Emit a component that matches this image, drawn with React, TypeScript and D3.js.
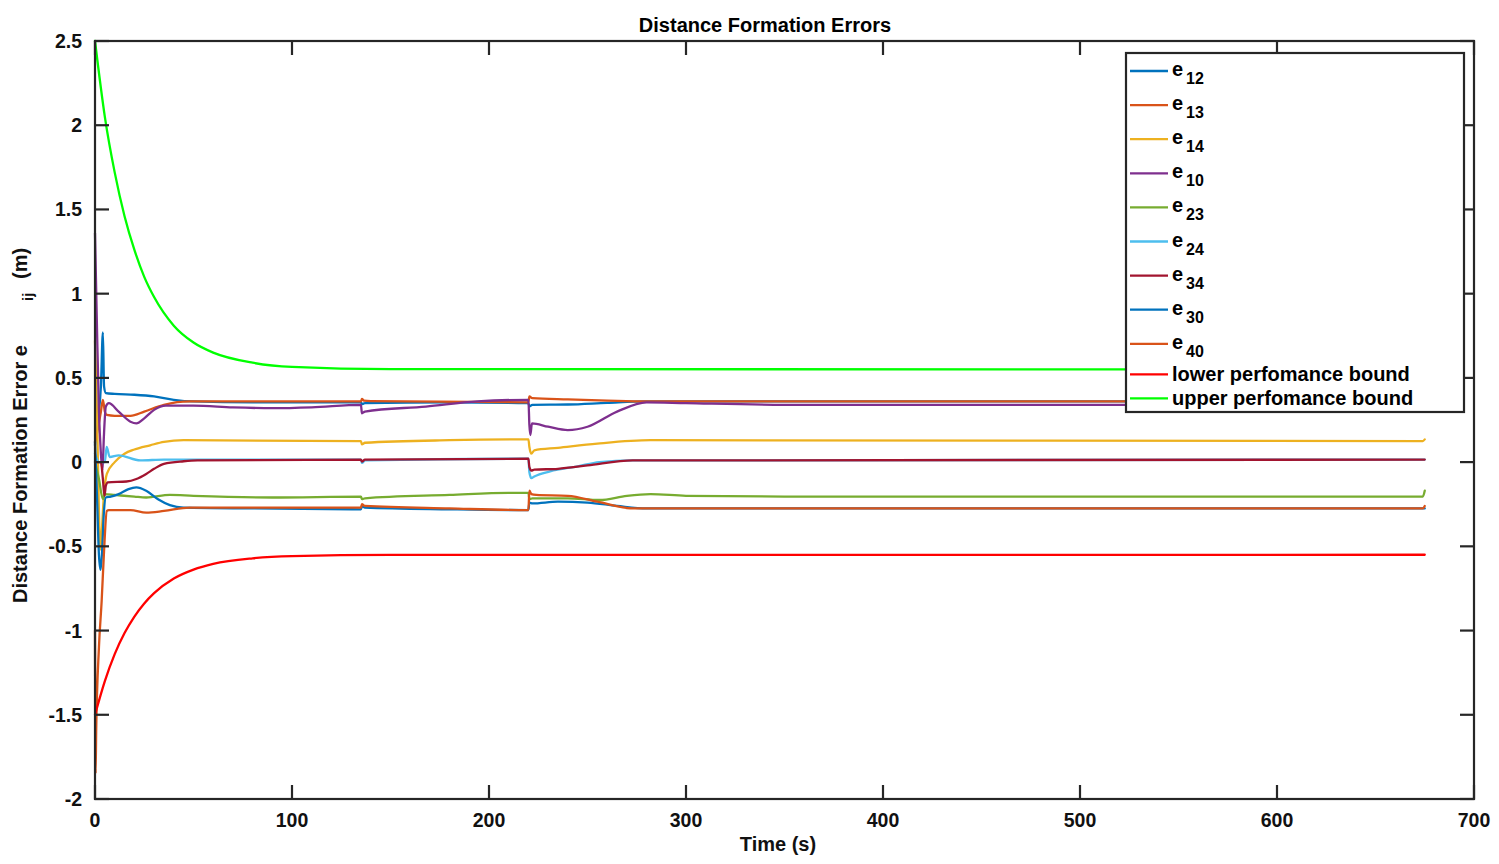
import React from "react";
import * as d3 from "d3";

// ---- data (time in s, error in m) ----
type P = [number, number];

const e12: P[] = [[0,0.1],[1.5,0.25],[3,0.45],[4,0.77],[4.6,0.45],[5.5,0.41],[10,0.405],[20,0.4],[30,0.39],[40,0.37],[50,0.36],[80,0.355],[135,0.355],[135.5,0.345],[137,0.35],[180,0.355],[220,0.35],[220.5,0.33],[222,0.34],[240,0.342],[260,0.352],[280,0.36],[300,0.36],[675,0.36]];
const e13: P[] = [[0,0.12],[1.5,0.2],[3,0.3],[4,0.37],[5,0.3],[6,0.28],[10,0.275],[18,0.275],[25,0.3],[35,0.34],[48,0.36],[135,0.36],[135.5,0.375],[136.5,0.365],[140,0.362],[220,0.355],[220.5,0.39],[222,0.38],[240,0.372],[260,0.365],[280,0.36],[675,0.36]];
const e14: P[] = [[0,0.72],[1,0.3],[2,-0.3],[2.8,-0.52],[3.5,-0.4],[4.5,-0.2],[6,-0.07],[10,0.0],[15,0.05],[20,0.075],[28,0.1],[35,0.12],[45,0.13],[135,0.125],[135.5,0.105],[137,0.115],[180,0.13],[220,0.135],[220.5,0.09],[221.5,0.05],[223,0.07],[235,0.085],[255,0.11],[282,0.13],[674,0.125],[675,0.135]];
const e10: P[] = [[0,1.36],[1,0.8],[2,0.3],[3,0.05],[3.8,-0.05],[4.5,0.15],[5.5,0.33],[7,0.35],[12,0.3],[18,0.24],[21,0.23],[25,0.26],[30,0.31],[36,0.335],[50,0.335],[70,0.325],[90,0.32],[110,0.325],[135,0.34],[135.5,0.29],[137,0.3],[168,0.33],[194,0.36],[220,0.37],[220.5,0.22],[221,0.16],[221.8,0.23],[230,0.21],[240,0.19],[250,0.21],[265,0.3],[280,0.355],[300,0.35],[350,0.34],[675,0.34]];
const e23: P[] = [[0,0.0],[2,-0.1],[4,-0.22],[5,-0.19],[10,-0.195],[20,-0.205],[26,-0.21],[38,-0.195],[50,-0.2],[90,-0.21],[135,-0.205],[135.5,-0.22],[137,-0.215],[180,-0.195],[210,-0.183],[220,-0.183],[220.5,-0.22],[222,-0.215],[240,-0.215],[256,-0.225],[270,-0.2],[282,-0.19],[300,-0.2],[350,-0.205],[674,-0.205],[675,-0.17]];
const e24: P[] = [[0,0.05],[2,0.0],[5,0.0],[5.9,0.09],[7.5,0.03],[12,0.04],[23,0.01],[35,0.015],[135,0.015],[135.5,-0.005],[137,0.01],[220,0.02],[220.5,-0.06],[221.5,-0.095],[223,-0.085],[231,-0.055],[245,-0.025],[256,0.0],[273,0.01],[675,0.015]];
const e34: P[] = [[0,0.0],[3,0.0],[4,-0.1],[4.8,-0.2],[5.5,-0.14],[6.5,-0.12],[16,-0.115],[21,-0.1],[26,-0.07],[30,-0.04],[35,-0.01],[45,0.005],[52,0.01],[135,0.015],[135.5,0.003],[137,0.015],[220,0.02],[220.5,-0.03],[221.5,-0.05],[223,-0.045],[235,-0.04],[250,-0.02],[273,0.01],[675,0.015]];
const e30: P[] = [[0,0.12],[1,-0.2],[2,-0.55],[2.8,-0.64],[3.5,-0.55],[4.5,-0.3],[5.5,-0.21],[8,-0.205],[12,-0.19],[17,-0.16],[21,-0.15],[26,-0.17],[32,-0.22],[38,-0.255],[45,-0.27],[80,-0.275],[135,-0.28],[135.5,-0.26],[137,-0.27],[180,-0.28],[220,-0.285],[220.5,-0.24],[222,-0.245],[235,-0.235],[250,-0.24],[265,-0.26],[280,-0.275],[675,-0.275]];
const e40: P[] = [[0,-1.0],[0.3,-1.85],[0.6,-1.6],[2,-1.1],[3.4,-0.82],[4.5,-0.55],[6,-0.29],[7,-0.285],[18,-0.285],[26,-0.3],[35,-0.29],[48,-0.27],[135,-0.27],[135.5,-0.25],[137,-0.26],[180,-0.275],[220,-0.285],[220.5,-0.17],[221.5,-0.19],[224,-0.195],[240,-0.2],[255,-0.235],[273,-0.275],[674,-0.275],[675,-0.26]];

const boundT = [0, 5, 10, 15, 20, 25, 30, 40, 50, 60, 80, 100, 150, 675];
const upperV = [2.5, 2.05, 1.72, 1.46, 1.26, 1.1, 0.98, 0.81, 0.71, 0.65, 0.59, 0.565, 0.552, 0.55];
const lowerV = [-1.5, -1.3, -1.14, -1.015, -0.917, -0.839, -0.778, -0.691, -0.638, -0.604, -0.571, -0.558, -0.551, -0.55];

const xTicks = [0, 100, 200, 300, 400, 500, 600, 700];
const yTicks = [-2, -1.5, -1, -0.5, 0, 0.5, 1, 1.5, 2, 2.5];

const seriesNames = ["12", "13", "14", "10", "23", "24", "34", "30", "40"];
const seriesData = [e12, e13, e14, e10, e23, e24, e34, e30, e40];
const seriesColors = ["#0072BD", "#D95319", "#EDB120", "#7E2F8E", "#77AC30", "#4DBEEE", "#A2142F", "#0072BD", "#D95319"];
const boundNames = ["lower perfomance bound", "upper perfomance bound"];
const boundColors = ["#FF0000", "#00FF00"];

// ---- layout ----
const W = 1499, H = 864;
const L = 95, R = 1474, T = 41, B = 799;
const FONT = "'Liberation Sans', Arial, Helvetica, sans-serif";
const AX = "#262626";

export default function App() {
  const x = d3.scaleLinear().domain([0, 700]).range([L, R]);
  const y = d3.scaleLinear().domain([-2, 2.5]).range([B, T]);
  const line = d3.line<P>().x(d => x(d[0])).y(d => y(d[1])).curve(d3.curveMonotoneX);
  const lowerPts: P[] = boundT.map((t, i) => [t, lowerV[i]]);
  const upperPts: P[] = boundT.map((t, i) => [t, upperV[i]]);
  const tk = 14;

  const legX = 1126, legY = 53, legW = 338, legH = 359;
  const rowY = (i: number) => (i < 9 ? 71 + i * 34.1 : i === 9 ? 374.3 : 398.3);

  return (
    <div style={{ position: "absolute", left: 0, top: 0 }}>
      <svg width={W} height={H} style={{ display: "block", background: "#fff" }} fontFamily={FONT}>
        <rect x={0} y={0} width={W} height={H} fill="#fff" />
        {/* series */}
        <g fill="none" strokeWidth={2.3} strokeLinejoin="round" strokeLinecap="round">
          {seriesData.map((d, i) => (
            <path key={i} d={line(d) || ""} stroke={seriesColors[i]} />
          ))}
          <path d={line(lowerPts) || ""} stroke={boundColors[0]} />
          <path d={line(upperPts) || ""} stroke={boundColors[1]} />
        </g>
        {/* axes box and ticks */}
        <g stroke={AX} strokeWidth={2.2} fill="none">
          <rect x={L} y={T} width={R - L} height={B - T} />
          {xTicks.map(t => (
            <g key={"x" + t}>
              <line x1={x(t)} x2={x(t)} y1={B} y2={B - tk} />
              <line x1={x(t)} x2={x(t)} y1={T} y2={T + tk} />
            </g>
          ))}
          {yTicks.map(t => (
            <g key={"y" + t}>
              <line x1={L} x2={L + tk} y1={y(t)} y2={y(t)} />
              <line x1={R} x2={R - tk} y1={y(t)} y2={y(t)} />
            </g>
          ))}
        </g>
        <g fontSize={19.5} fontWeight="bold" fill="#111">
          {xTicks.map(t => (
            <text key={"xl" + t} x={x(t)} y={827} textAnchor="middle">{String(t)}</text>
          ))}
          {yTicks.map(t => (
            <text key={"yl" + t} x={82} y={y(t) + 7} textAnchor="end">{String(t)}</text>
          ))}
        </g>
        {/* title and labels */}
        <text x={765} y={32} textAnchor="middle" fontSize={20} fontWeight="bold" fill="#000">Distance Formation Errors</text>
        <text x={778} y={851} textAnchor="middle" fontSize={20} fontWeight="bold" fill="#111">Time (s)</text>
        <g fontWeight="bold" fill="#111">
          <text transform="translate(27,603) rotate(-90)" fontSize={20}>Distance Formation Error e</text>
          <text transform="translate(33,301) rotate(-90)" fontSize={15}>ij</text>
          <text transform="translate(27,279) rotate(-90)" fontSize={20}>(m)</text>
        </g>
        {/* legend */}
        <g>
          <rect x={legX} y={legY} width={legW} height={legH} fill="#fff" stroke={AX} strokeWidth={2.2} />
          {seriesNames.map((n, i) => (
            <g key={"lg" + i}>
              <line x1={1130} x2={1168} y1={rowY(i)} y2={rowY(i)} stroke={seriesColors[i]} strokeWidth={2.3} />
              <text x={1172} y={rowY(i) + 5} fontSize={20} fontWeight="bold" fill="#000">e</text>
              <text x={1186} y={rowY(i) + 13} fontSize={16} fontWeight="bold" fill="#000">{n}</text>
            </g>
          ))}
          {boundNames.map((n, j) => (
            <g key={"lb" + j}>
              <line x1={1130} x2={1168} y1={rowY(9 + j)} y2={rowY(9 + j)} stroke={boundColors[j]} strokeWidth={2.3} />
              <text x={1172} y={rowY(9 + j) + 6.5} fontSize={20} fontWeight="bold" fill="#000">{n}</text>
            </g>
          ))}
        </g>
      </svg>
    </div>
  );
}
